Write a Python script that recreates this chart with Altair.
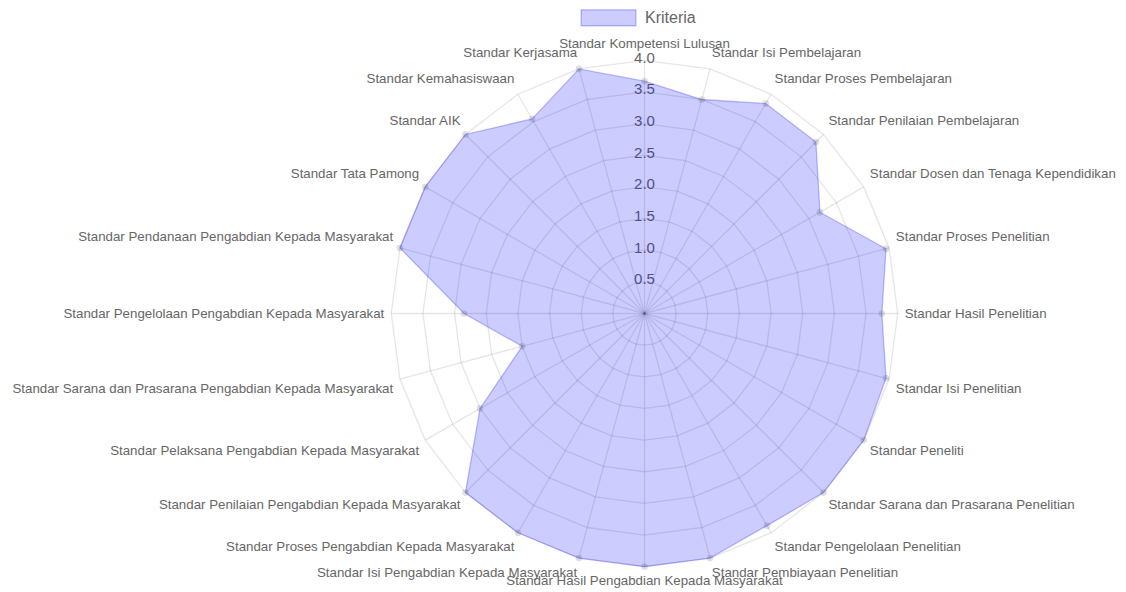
import altair as alt
import pandas as pd

categories = [
    "Standar Kompetensi Lulusan",
    "Standar Isi Pembelajaran",
    "Standar Proses Pembelajaran",
    "Standar Penilaian Pembelajaran",
    "Standar Dosen dan Tenaga Kependidikan",
    "Standar Proses Penelitian",
    "Standar Hasil Penelitian",
    "Standar Isi Penelitian",
    "Standar Peneliti",
    "Standar Sarana dan Prasarana Penelitian",
    "Standar Pengelolaan Penelitian",
    "Standar Pembiayaan Penelitian",
    "Standar Hasil Pengabdian Kepada Masyarakat",
    "Standar Isi Pengabdian Kepada Masyarakat",
    "Standar Proses Pengabdian Kepada Masyarakat",
    "Standar Penilaian Pengabdian Kepada Masyarakat",
    "Standar Pelaksana Pengabdian Kepada Masyarakat",
    "Standar Sarana dan Prasarana Pengabdian Kepada Masyarakat",
    "Standar Pengelolaan Pengabdian Kepada Masyarakat",
    "Standar Pendanaan Pengabdian Kepada Masyarakat",
    "Standar Tata Pamong",
    "Standar AIK",
    "Standar Kemahasiswaan",
    "Standar Kerjasama",
]
values = [3.67, 3.5, 3.83, 3.83, 3.2, 3.95, 3.75, 3.95, 4.0, 4.0, 3.87, 4.0,
          4.0, 4.0, 4.0, 4.0, 3.0, 2.0, 2.85, 4.0, 4.0, 4.0, 3.55, 4.0]
series_name = "Kriteria"
tick_values = [0.5, 1.0, 1.5, 2.0, 2.5, 3.0, 3.5, 4.0]
tick_labels = ["0.5", "1.0", "1.5", "2.0", "2.5", "3.0", "3.5", "4.0"]
r_max = 4.0

n = len(categories)
poly_df = pd.DataFrame({"idx": list(range(n)), "category": categories,
                        "value": values, "series": series_name})
ring_df = pd.DataFrame([{"idx": i, "level": lv} for lv in tick_values for i in range(n)])
spoke_df = pd.DataFrame({"idx": list(range(n)), "level": r_max})
tick_df = pd.DataFrame({"level": tick_values, "label": tick_labels})
label_df = pd.DataFrame({"idx": list(range(n)), "category": categories})

# layout
W, H = 1110, 584
CX, CY = 636.5, 305.5
K = 63.3
FONT = "Liberation Sans"
GRID = "rgba(0,0,0,0.1)"
TEXT = "#666666"
FILL = "rgba(0,0,255,0.2)"
STROKE = "rgba(0,0,255,0.25)"
PAD = 7

xs = alt.Scale(domain=[-CX / K, (W - CX) / K], nice=False, zero=False)
ys = alt.Scale(domain=[-(H - CY) / K, CY / K], nice=False, zero=False)
ANG = f"datum.idx * 2 * PI / {n}"


def X(f):
    return alt.X(f"{f}:Q", scale=xs, axis=None)


def Y(f):
    return alt.Y(f"{f}:Q", scale=ys, axis=None)


rings = alt.Chart(ring_df).transform_calculate(
    ang=ANG, px="datum.level * sin(datum.ang)", py="datum.level * cos(datum.ang)"
).mark_line(interpolate="linear-closed", stroke=GRID, strokeWidth=1.3).encode(
    x=X("px"), y=Y("py"), detail="level:N", order="idx:Q"
)

spokes = alt.Chart(spoke_df).transform_calculate(
    ang=ANG, zero="0", ex="datum.level * sin(datum.ang)", ey="datum.level * cos(datum.ang)"
).mark_rule(stroke=GRID, strokeWidth=1.3).encode(
    x=X("zero"), y=Y("zero"), x2="ex:Q", y2="ey:Q"
)

ticks = alt.Chart(tick_df).transform_calculate(zero="0").mark_text(
    font=FONT, fontSize=15, color=TEXT, align="center", baseline="middle", dy=-2.5
).encode(x=X("zero"), y=Y("level"), text="label:N")

lr = r_max + PAD / K
label_base = alt.Chart(label_df).transform_calculate(
    ang=ANG,
    s="sin(datum.ang)",
    lx=f"{lr} * sin(datum.ang)",
    ly=f"{lr} * cos(datum.ang) + (cos(datum.ang) > 0.01 ? {9 / K} : (cos(datum.ang) < -0.01 ? {-7.7 / K} : 0))",
)


def lab(expr, align):
    return label_base.transform_filter(expr).mark_text(
        font=FONT, fontSize=13.3, color=TEXT, align=align, baseline="middle"
    ).encode(x=X("lx"), y=Y("ly"), text="category:N")


labels = lab("abs(datum.s) < 0.01", "center") + lab("datum.s >= 0.01", "left") + lab("datum.s <= -0.01", "right")

poly_base = alt.Chart(poly_df).transform_calculate(
    ang=ANG, px="datum.value * sin(datum.ang)", py="datum.value * cos(datum.ang)"
)

polygon = poly_base.mark_line(interpolate="linear-closed", stroke=STROKE, strokeWidth=1.3).encode(
    x=X("px"), y=Y("py"), order="idx:Q",
    fill=alt.Fill("series:N", scale=alt.Scale(domain=[series_name], range=[FILL]),
                  legend=alt.Legend(title=None, orient="none", legendX=572, legendY=-18.7,
                                    symbolType="M-1,-0.29H1V0.29H-1Z", symbolSize=3000,
                                    symbolStrokeColor=STROKE, symbolStrokeWidth=1.3,
                                    labelFont=FONT, labelFontSize=16, labelColor=TEXT,
                                    labelOffset=8, padding=0)),
)

points = poly_base.mark_circle(size=45, color="rgba(0,0,0,0.12)", opacity=1).encode(
    x=X("px"), y=Y("py")
)

chart = alt.layer(rings, spokes, ticks, labels, polygon, points).properties(
    width=W, height=H, autosize=alt.AutoSizeParams(type="none"), padding=0
).configure_view(stroke=None)

chart.save("out.html", embed_options={"renderer": "svg", "actions": False})
